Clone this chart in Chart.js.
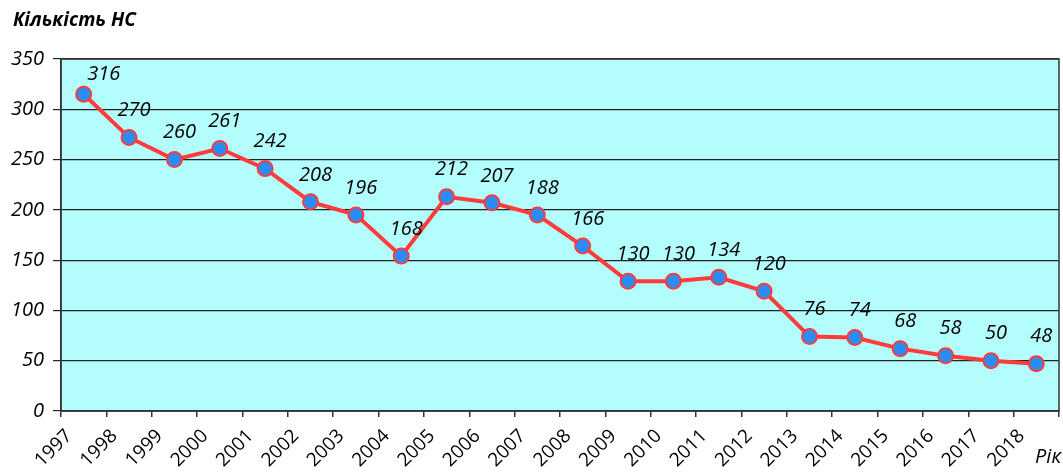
<!DOCTYPE html>
<html>
<head>
<meta charset="utf-8">
<script src="https://cdn.jsdelivr.net/npm/chart.js@4/dist/chart.umd.min.js"></script>
<style>
  html, body { margin: 0; padding: 0; background: #fff; }
  #wrap { position: relative; width: 1063px; height: 472px; }
</style>
</head>
<body>
<div id="wrap"><canvas id="accidentChart" width="1063" height="472"></canvas></div>
<script>
const years = ["1997", "1998", "1999", "2000", "2001", "2002", "2003", "2004", "2005", "2006", "2007",
  "2008", "2009", "2010", "2011", "2012", "2013", "2014", "2015", "2016", "2017", "2018"];
// plotted values (as drawn in the picture)
const accidents = [315, 272, 250, 261, 241, 208, 195, 154, 213, 207, 195,
  164, 129, 129, 133, 119, 74, 73, 62, 55, 50, 47];
// value labels as printed next to the points
const pointLabels = ["316", "270", "260", "261", "242", "208", "196", "168", "212", "207", "188",
  "166", "130", "130", "134", "120", "76", "74", "68", "58", "50", "48"];
const yTicks = [0, 50, 100, 150, 200, 250, 300, 350];

const FONT = "'Open Sans', sans-serif";

// points sit between the year ticks
const points = accidents.map((v, i) => ({ x: i + 0.5, y: v }));

const plotBackground = {
  id: "plotBackground",
  beforeDraw(chart) {
    const { ctx, chartArea } = chart;
    ctx.save();
    ctx.fillStyle = "#b4fdfd";
    ctx.fillRect(chartArea.left, chartArea.top, chartArea.right - chartArea.left, chartArea.bottom - chartArea.top);
    ctx.restore();
  },
  afterDraw(chart) {
    const { ctx, chartArea } = chart;
    ctx.save();
    ctx.strokeStyle = "#333";
    ctx.lineWidth = 1.5;
    ctx.strokeRect(chartArea.left, chartArea.top, chartArea.right - chartArea.left, chartArea.bottom - chartArea.top);
    // axis names
    ctx.fillStyle = "#000";
    ctx.font = "italic bold 19px " + FONT;
    ctx.textBaseline = "alphabetic";
    ctx.textAlign = "left";
    ctx.fillText("Кількість НС", 13, 26);
    ctx.font = "italic 20px " + FONT;
    ctx.textAlign = "right";
    ctx.fillText("Рік", 1061, 463);
    ctx.restore();
  },
};

const valueLabels = {
  id: "valueLabels",
  afterDatasetsDraw(chart) {
    const { ctx } = chart;
    const meta = chart.getDatasetMeta(0);
    ctx.save();
    ctx.font = "italic 20px " + FONT;
    ctx.fillStyle = "#000";
    ctx.textAlign = "center";
    ctx.textBaseline = "middle";
    meta.data.forEach((pt, i) => {
      // first label sits a bit further to the right
      const dx = i === 0 ? 20 : 5;
      const dy = i === 0 ? -20 : -27;
      ctx.fillText(pointLabels[i], pt.x + dx, pt.y + dy);
    });
    ctx.restore();
  },
};

const ctx = document.getElementById("accidentChart").getContext("2d");
new Chart(ctx, {
  type: "line",
  data: {
    datasets: [
      {
        data: points,
        borderColor: "#ff3b3b",
        borderWidth: 4,
        pointRadius: 7.5,
        pointBackgroundColor: "#2b8cf5",
        pointBorderColor: "#ff3b3b",
        pointBorderWidth: 2,
        tension: 0,
      },
    ],
  },
  options: {
    responsive: false,
    animation: false,
    layout: { autoPadding: false, padding: { top: 59, right: 4, left: 0, bottom: 0 } },
    plugins: {
      legend: { display: false },
      tooltip: { enabled: false },
    },
    scales: {
      x: {
        type: "linear",
        min: 0,
        max: years.length,
        afterBuildTicks: (axis) => {
          axis.ticks = years.map((y, i) => ({ value: i })).concat([{ value: years.length }]);
        },
        afterFit: (axis) => {
          axis.height = 61;
          axis.paddingLeft = 0;
          axis.paddingRight = 0;
        },
        ticks: {
          autoSkip: false,
          maxRotation: 45,
          minRotation: 45,
          color: "#000",
          font: { family: FONT, size: 19 },
          padding: 8,
          labelOffset: 8,
          callback: (v) => years[v] || "",
        },
        grid: {
          drawOnChartArea: false,
          color: "#333",
          lineWidth: 1.5,
          tickLength: 6,
        },
        border: { color: "#333", width: 1.5 },
      },
      y: {
        min: 0,
        max: 350,
        afterBuildTicks: (axis) => {
          axis.ticks = yTicks.map((v) => ({ value: v }));
        },
        afterFit: (axis) => { axis.width = 61; },
        ticks: {
          color: "#000",
          font: { family: FONT, size: 20, style: "italic" },
          padding: 9,
        },
        grid: {
          color: "#222",
          lineWidth: 1.2,
          tickLength: 8,
        },
        border: { color: "#333", width: 1.5 },
      },
    },
  },
  plugins: [plotBackground, valueLabels],
});
</script>
</body>
</html>
